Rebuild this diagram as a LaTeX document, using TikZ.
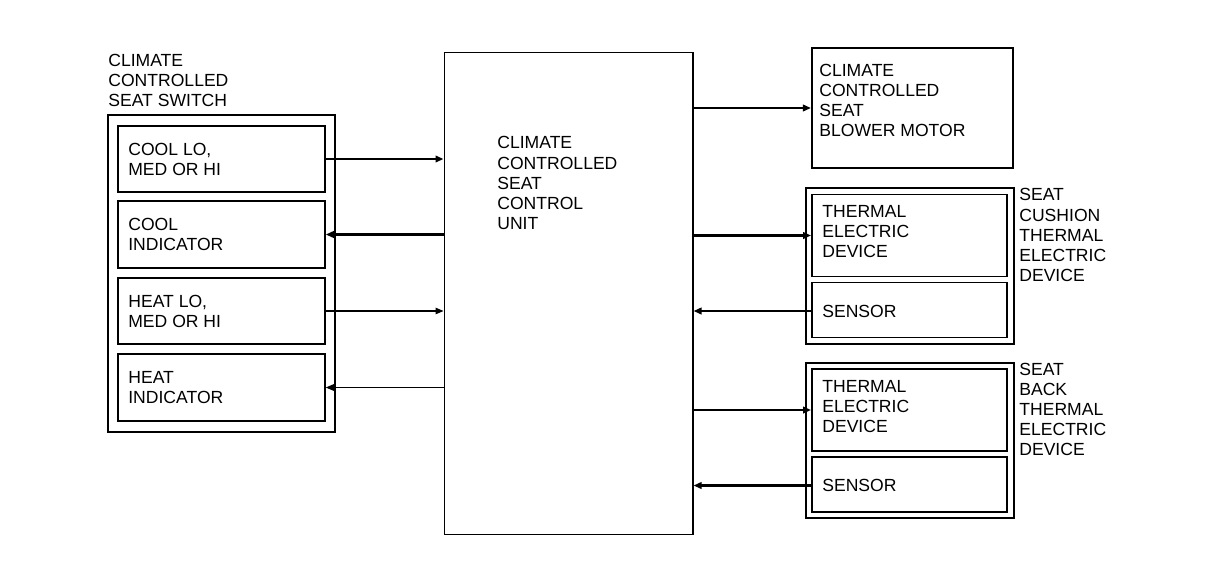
\documentclass[tikz,border=0pt]{standalone}
\usepackage{fontspec}
\setmainfont{Liberation Sans}
\usepackage{tikz}
\usetikzlibrary{arrows.meta,positioning}
\definecolor{ink}{HTML}{000000}
\tikzset{
  outer/.style={draw=ink, line width=1.2pt, inner sep=0pt},
  box/.style={draw=ink, line width=0.9pt, inner sep=0pt, minimum width=4.14cm, minimum height=1.33cm},
  unit/.style={draw=ink, line width=0.6pt, inner sep=0pt},
  txt/.style={text=ink, font=\fontsize{10}{11.4}\selectfont, align=left, inner sep=0pt, anchor=west},
  sig/.style={draw=ink, line width=1.3pt, -{Triangle[length=1.6mm,width=1.3mm]}},
  sigt/.style={draw=ink, line width=0.6pt, -{Triangle[length=1.6mm,width=1.3mm]}},
}

\begin{document}
\begin{tikzpicture}[x=0.02cm,y=-0.02cm]
  \useasboundingbox (0,0) rectangle (1216,582);
  % seat switch
  \node[outer, minimum width=4.54cm, minimum height=6.34cm] (sw) at (221.5,273.5) {};
  \node[txt] (sw-t) at (108,80.5) {CLIMATE\\CONTROLLED\\SEAT SWITCH};
  \foreach \n/\y/\t in {coolsel/159/{COOL LO,\\MED OR HI}, coolind/234.5/{COOL\\INDICATOR},
                        heatsel/311/{HEAT LO,\\MED OR HI}, heatind/387.5/{HEAT\\INDICATOR}}{
    \node[box] (\n) at (221.5,\y) {};
    \node[txt] (\n-t) at (128,\y) {\t};
  }
  % control unit
  \node[unit, minimum width=4.98cm, minimum height=9.66cm] (ccu) at (568.5,293.5) {};
  \node[txt] (ccu-t) at (497,183) {CLIMATE\\CONTROLLED\\SEAT\\CONTROL\\UNIT};
  % blower motor
  \node[outer, minimum width=4.02cm, minimum height=2.4cm] (blower) at (912.5,108) {};
  \node[txt] (blower-t) at (819,100) {CLIMATE\\CONTROLLED\\SEAT\\BLOWER MOTOR};
  % thermal electric devices
  \foreach \n/\y/\t in {cush/266/{SEAT\\CUSHION\\THERMAL\\ELECTRIC\\DEVICE},
                        back/440.5/{SEAT\\BACK\\THERMAL\\ELECTRIC\\DEVICE}}{
    \node[outer, minimum width=4.16cm, minimum height=3.11cm] (\n) at (910,\y) {};
    \node[box, line width=1.1pt, minimum width=3.9cm, minimum height=1.64cm] (\n-ted) at (909.5,\y-30.5) {};
    \node[box, line width=1.1pt, minimum width=3.9cm, minimum height=1.1cm] (\n-sen) at (909.5,\y+44) {};
    \node[txt] (\n-ted-t) at (822,\y-34) {THERMAL\\ELECTRIC\\DEVICE};
    \node[txt] (\n-sen-t) at (822,\y+45) {SENSOR};
    \node[txt] (\n-t) at (1019,\y-31) {\t};
  }
  % signals
  \draw[sig] (coolsel.east) -- (coolsel.east -| ccu.west);
  \draw[sig] (ccu.west |- coolind.east) -- (coolind.east);
  \draw[sigt] (heatsel.east) -- (heatsel.east -| ccu.west);
  \draw[sigt] (ccu.west |- heatind.east) -- (heatind.east);
  \draw[sig] (ccu.east |- blower.west) -- (blower.west);
  \foreach \n in {cush,back}{
    \draw[sig] (ccu.east |- \n-ted.west) -- (\n-ted.west);
    \draw[sig] (\n-sen.west |- \n-sen-t.west) -- (ccu.east |- \n-sen-t.west);
  }
\end{tikzpicture}
\end{document}
